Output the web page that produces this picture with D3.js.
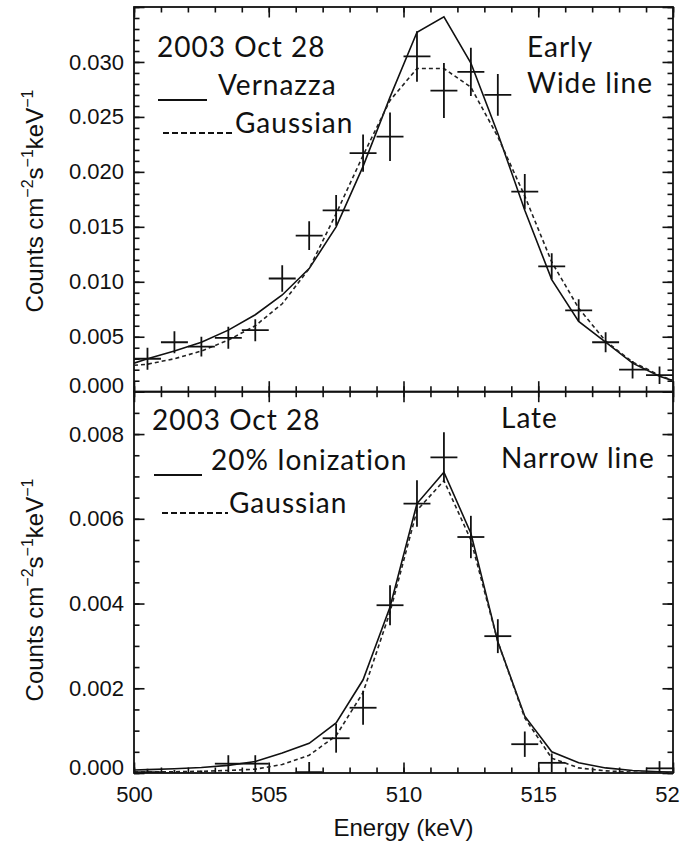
<!DOCTYPE html>
<html>
<head>
<meta charset="utf-8">
<script src="https://cdn.jsdelivr.net/npm/d3@7"></script>
<style>
  body { margin: 0; background: #fff; }
  svg { display: block; }
  .tick text { font-family: "Liberation Sans", Arial, sans-serif; font-size: 22px; fill: #111; }
  .tick line { stroke: #111; stroke-width: 1.6; }
  .note { font-family: Lato, "Open Sans", sans-serif; font-size: 28px; letter-spacing: 1px; fill: #111; }
  .title { font-family: "Liberation Sans", Arial, sans-serif; font-size: 24px; fill: #111; }
</style>
</head>
<body>
<div id="chart"></div>
<script>
// bin centres (keV)
const binE = [500.5,501.5,502.5,503.5,504.5,505.5,506.5,507.5,508.5,509.5,
              510.5,511.5,512.5,513.5,514.5,515.5,516.5,517.5,518.5,519.5]

// early (wide line) spectrum
const earlyCounts = [0.0030,0.0045,0.0041,0.0049,0.0056,0.0103,0.0142,0.0165,0.0217,0.0232,
                     0.0305,0.0274,0.0291,0.0270,0.0182,0.0114,0.0074,0.0045,0.0020,0.0015]
const earlyErr    = [0.0010,0.0010,0.0009,0.0010,0.0010,0.0012,0.0013,0.0014,0.0017,0.0022,
                     0.0023,0.0025,0.0022,0.0019,0.0016,0.0012,0.0010,0.0009,0.0008,0.0008]

// model curves are drawn from edge to edge
const modelE = [500,500.5,501.5,502.5,503.5,504.5,505.5,506.5,507.5,508.5,509.5,
                510.5,511.5,512.5,513.5,514.5,515.5,516.5,517.5,518.5,519.5,520]
const earlyVernazza = [0.0026,0.0030,0.0037,0.0045,0.0056,0.0070,0.0088,0.0112,0.0150,0.0205,0.0268,
                       0.0327,0.0341,0.0299,0.0235,0.0165,0.0102,0.0064,0.0045,0.0026,0.0014,0.0010]
const earlyGauss    = [0.0024,0.0025,0.0030,0.0037,0.0047,0.0060,0.0080,0.0112,0.0162,0.0215,0.0265,
                       0.0294,0.0294,0.0277,0.0232,0.0178,0.0118,0.0076,0.0046,0.0027,0.0015,0.0010]

// late (narrow line) spectrum, bins with no visible point left out
const lateE      = [500.5,501.5,502.5,503.5,504.5,506.5,507.5,508.5,509.5,
                    510.5,511.5,512.5,513.5,514.5,515.5,519.5]
const lateCounts = [0.00002,-0.00001,-0.00002,0.00022,0.00022,0.00002,0.00082,0.00154,0.00396,
                    0.00636,0.00745,0.00557,0.00323,0.00068,0.00024,0.00011]
const lateErr    = [0.00008,0.00008,0.00008,0.00020,0.00020,0.00024,0.00034,0.00040,0.00047,
                    0.00055,0.00059,0.00050,0.00040,0.00030,0.00022,0.00017]
const lateIoniz = [0.00007,0.00008,0.00010,0.00013,0.00018,0.00027,0.00047,0.00070,0.00118,0.00220,0.00392,
                   0.00636,0.00710,0.00566,0.00310,0.00134,0.00050,0.00024,0.00012,0.00006,0.00003,0.00002]
const lateGauss = [0.00002,0.00002,0.00003,0.00004,0.00006,0.00009,0.00020,0.00042,0.00088,0.00190,0.00380,
                   0.00620,0.00690,0.00550,0.00310,0.00130,0.00035,0.00012,0.00005,0.00002,0.00001,0.00001]

const xTicks = [500,505,510,515,520]

const width = 680, height = 843
const left = 134, right = 673

const svg = d3.select("#chart").append("svg")
    .attr("width", width).attr("height", height)

const x = d3.scaleLinear().domain([500,520]).range([left,right])

function drawPanel(opt){
    let y = opt.y
    let top = y.range()[1], bottom = y.range()[0]
    let g = svg.append("g")

    let clipId = "clip-" + opt.name
    g.append("clipPath").attr("id", clipId)
      .append("rect").attr("x", left).attr("y", top).attr("width", right-left).attr("height", bottom-top)

    // ticks, all pointing inward
    let yMinor = d3.range(0, y.domain()[1] + 1e-9, opt.minor)
    let yMajor = d3.range(0, y.domain()[1] + 1e-9, opt.major)
    let xMinor = d3.range(500, 520.01, 1)
    let fmt = d3.format(".3f")

    g.append("g").attr("transform", "translate(" + left + ",0)")
      .call(d3.axisLeft(y).tickValues(yMinor).tickSize(-5.5).tickFormat(""))
    let yl = g.append("g").attr("transform", "translate(" + left + ",0)")
      .call(d3.axisLeft(y).tickValues(yMajor).tickSize(-10.5).tickPadding(10)
            .tickFormat(d => d <= opt.labelMax + 1e-9 ? fmt(d) : ""))
    // the zero label sits a little above the frame corner
    yl.selectAll(".tick text").filter(d => d === 0).attr("dy", "0.05em")

    g.append("g").attr("transform", "translate(" + right + ",0)")
      .call(d3.axisRight(y).tickValues(yMinor).tickSize(-5.5).tickFormat(""))
    g.append("g").attr("transform", "translate(" + right + ",0)")
      .call(d3.axisRight(y).tickValues(yMajor).tickSize(-10.5).tickFormat(""))

    g.append("g").attr("transform", "translate(0," + top + ")")
      .call(d3.axisTop(x).tickValues(xMinor).tickSize(-5.5).tickFormat(""))
    g.append("g").attr("transform", "translate(0," + top + ")")
      .call(d3.axisTop(x).tickValues(xTicks).tickSize(-10.5).tickFormat(""))
    g.append("g").attr("transform", "translate(0," + bottom + ")")
      .call(d3.axisBottom(x).tickValues(xMinor).tickSize(-5.5).tickFormat(""))
    g.append("g").attr("transform", "translate(0," + bottom + ")")
      .call(d3.axisBottom(x).tickValues(xTicks).tickSize(-10.5).tickPadding(13)
            .tickFormat(opt.xLabels ? d3.format("d") : ""))
    g.selectAll(".domain").remove()

    // frame
    g.append("rect").attr("x", left).attr("y", top).attr("width", right-left).attr("height", bottom-top)
      .attr("fill", "none").attr("stroke", "#111").attr("stroke-width", 1.8)

    let plot = g.append("g").attr("clip-path", "url(#" + clipId + ")")

    // model lines
    let line = d3.line().x((d,i) => x(modelE[i])).y(d => y(d))
    plot.append("path").datum(opt.solid).attr("d", line)
      .attr("fill", "none").attr("stroke", "#111").attr("stroke-width", 1.6)
    plot.append("path").datum(opt.dashed).attr("d", line)
      .attr("fill", "none").attr("stroke", "#222").attr("stroke-width", 1.6).attr("stroke-dasharray", "4,3")

    // data crosses
    let pts = opt.energy.map((e,i) => ({e: e, v: opt.counts[i], err: opt.err[i]}))
    let cross = plot.selectAll(".cross").data(pts).enter().append("g").attr("class", "cross")
    cross.append("line")
      .attr("x1", d => x(d.e - 0.5)).attr("x2", d => x(d.e + 0.5))
      .attr("y1", d => y(d.v)).attr("y2", d => y(d.v))
      .attr("stroke", "#111").attr("stroke-width", 1.8)
    cross.append("line")
      .attr("x1", d => x(d.e)).attr("x2", d => x(d.e))
      .attr("y1", d => y(d.v - d.err)).attr("y2", d => y(d.v + d.err))
      .attr("stroke", "#111").attr("stroke-width", 1.8)

    // y title
    let yt = g.append("text").attr("class", "title")
      .attr("transform", "translate(43," + opt.titleY + ") rotate(-90)")
      .attr("text-anchor", "middle")
    yt.append("tspan").text("Counts cm")
    yt.append("tspan").attr("dy", -10).attr("font-size", 16).text("\u22122")
    yt.append("tspan").attr("dy", 10).text("s")
    yt.append("tspan").attr("dy", -10).attr("font-size", 16).text("\u22121")
    yt.append("tspan").attr("dy", 10).text("keV")
    yt.append("tspan").attr("dy", -10).attr("font-size", 16).text("\u22121")

    // annotations
    let n = opt.notes
    g.append("text").attr("class", "note").attr("x", n.x).attr("y", n.y0).text("2003 Oct 28")
    g.append("text").attr("class", "note").attr("x", n.solidTextX).attr("y", n.y1).text(opt.solidName)
    g.append("line").attr("x1", n.solidLine[0]).attr("x2", n.solidLine[1])
      .attr("y1", n.y1 + 5).attr("y2", n.y1 + 5).attr("stroke", "#111").attr("stroke-width", 2)
    g.append("text").attr("class", "note").attr("x", n.dashTextX).attr("y", n.y2).text("Gaussian")
    g.append("line").attr("x1", n.dashLine[0]).attr("x2", n.dashLine[1])
      .attr("y1", n.y2).attr("y2", n.y2).attr("stroke", "#111").attr("stroke-width", 2)
      .attr("stroke-dasharray", "6,3")
    g.append("text").attr("class", "note").attr("x", n.rx).attr("y", n.r0).text(opt.phase[0])
    g.append("text").attr("class", "note").attr("x", n.rx).attr("y", n.r1).text(opt.phase[1])
}

drawPanel({
    name: "early",
    y: d3.scaleLinear().domain([0,0.035]).range([391.7,7]),
    major: 0.005, minor: 0.001, labelMax: 0.030,
    energy: binE, counts: earlyCounts, err: earlyErr,
    solid: earlyVernazza, dashed: earlyGauss,
    xLabels: false, titleY: 201,
    solidName: "Vernazza", phase: ["Early","Wide line"],
    notes: {x: 157, y0: 57, solidTextX: 218, y1: 95, solidLine: [158,207],
            dashTextX: 235, y2: 133, dashLine: [163,232], rx: 527, r0: 57, r1: 93}
})

drawPanel({
    name: "late",
    y: d3.scaleLinear().domain([0,0.009]).range([773,391.7]),
    major: 0.002, minor: 0.0005, labelMax: 0.008,
    energy: lateE, counts: lateCounts, err: lateErr,
    solid: lateIoniz, dashed: lateGauss,
    xLabels: true, titleY: 590,
    solidName: "20% Ionization", phase: ["Late","Narrow line"],
    notes: {x: 152, y0: 430, solidTextX: 211, y1: 470, solidLine: [154,202],
            dashTextX: 229, y2: 513, dashLine: [162,228], rx: 501, r0: 428, r1: 468}
})

svg.append("text").attr("class", "title")
    .attr("x", (left + right) / 2).attr("y", 836)
    .attr("font-size", 25)
    .attr("text-anchor", "middle")
    .text("Energy (keV)")
</script>
</body>
</html>
